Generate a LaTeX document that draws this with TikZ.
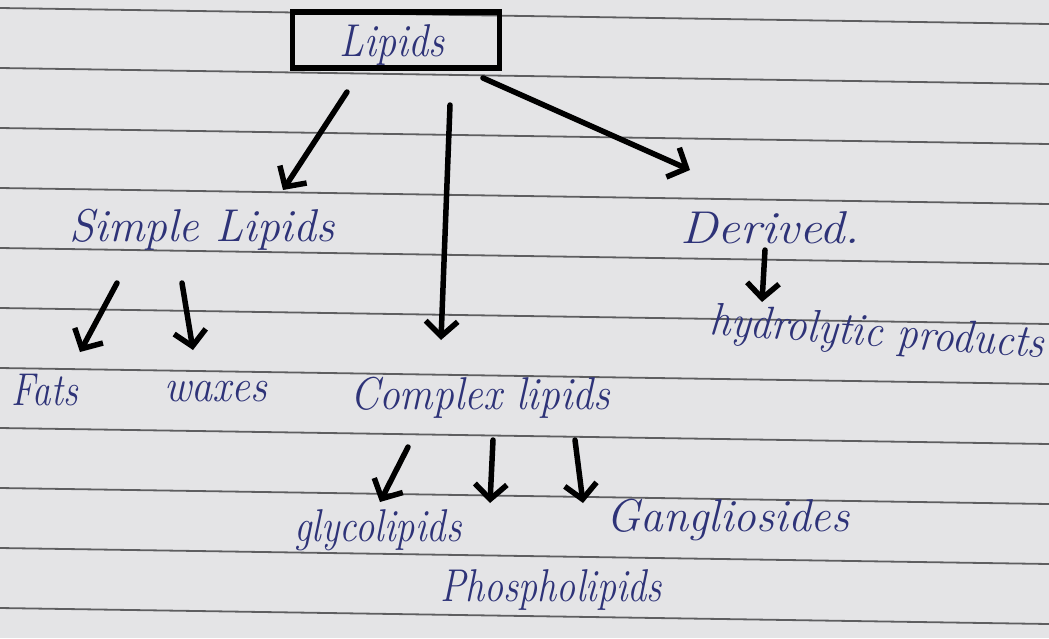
\documentclass[tikz,border=0pt]{standalone}
\usepackage{graphicx}
\usetikzlibrary{arrows.meta}
\definecolor{paper}{HTML}{E4E4E6}
\definecolor{ruling}{HTML}{5E5E60}
\definecolor{ink}{HTML}{2E3378}
\newcommand{\hwtext}[2]{\resizebox{#1pt}{\height}{\fontsize{46}{54}\selectfont\itshape #2}}
\tikzset{
  hw/.style={text=ink, inner sep=0pt, anchor=center},
  arr/.style={draw=black, line width=5.5pt, line cap=round,
    -{Straight Barb[length=15pt, width=32pt, line width=5.5pt]}},
  rulingline/.style={draw=ruling, line width=1.8pt},
}
\begin{document}
\begin{tikzpicture}[x=1pt, y=-1pt]
\fill[paper] (0,0) rectangle (1049,638);
\useasboundingbox (0,0) rectangle (1049,638);
\foreach \k in {0,...,10} {
  \draw[rulingline] (0,{8+60*\k}) -- (1049,{8+60*\k+16});
}
% nodes
\node[draw=black, line width=5.5pt, minimum width=207pt, minimum height=56pt, inner sep=0pt] (lipids) at (396,40) {};
\node[hw] (lipidstext) at (392,45) {\hwtext{105}{Lipids}};
\node[hw] (simple) at (202,230) {\hwtext{265}{Simple Lipids}};
\node[hw] (derived) at (770,228) {\hwtext{180}{Derived.}};
\node[hw, rotate=-4] (hydro) at (877,335) {\hwtext{335}{hydrolytic products}};
\node[hw] (fats) at (45,390) {\hwtext{66}{Fats}};
\node[hw] (waxes) at (216,392) {\hwtext{103}{waxes}};
\node[hw] (complex) at (480,398) {\hwtext{260}{Complex lipids}};
\node[hw] (glyco) at (378,530) {\hwtext{167}{glycolipids}};
\node[hw] (gang) at (728,520) {\hwtext{243}{Gangliosides}};
\node[hw] (phospho) at (551,590) {\hwtext{222}{Phospholipids}};
% connectors
\draw[arr] ([shift={(-49,52)}]lipids.center) -- ([shift={(81,-40)}]simple.center);
\draw[arr] ([shift={(54,65)}]lipids.center) -- ([shift={(-39,-58)}]complex.center);
\draw[arr] ([shift={(87,38)}]lipids.center) -- ([shift={(-80,-58)}]derived.center);
\draw[arr] ([shift={(-5,22)}]derived.center) -- ([shift={(-115,-33)}]hydro.center);
\draw[arr] ([shift={(-85,53)}]simple.center) -- ([shift={(35,-38)}]fats.center);
\draw[arr] ([shift={(-20,53)}]simple.center) -- ([shift={(-23,-42)}]waxes.center);
\draw[arr] ([shift={(-72,49)}]complex.center) -- ([shift={(2,-28)}]glyco.center);
\draw[arr] ([shift={(13,42)}]complex.center) -- ([shift={(-61,-87)}]phospho.center);
\draw[arr] ([shift={(95,42)}]complex.center) -- ([shift={(-145,-17)}]gang.center);
\end{tikzpicture}
\end{document}
